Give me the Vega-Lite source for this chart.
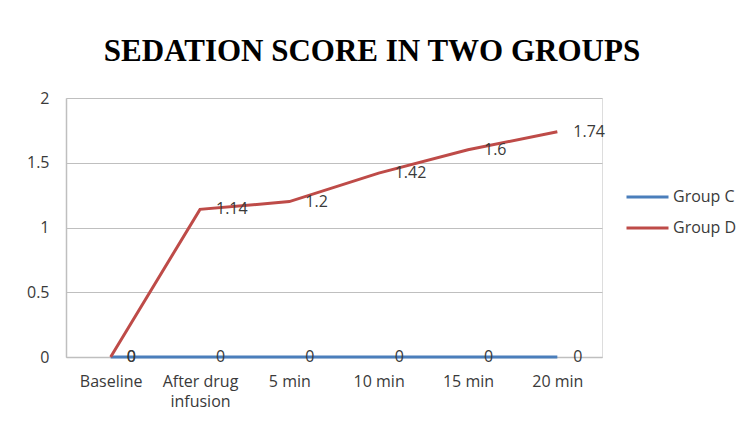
{
  "$schema": "https://vega.github.io/schema/vega-lite/v6.json",
  "width": 536,
  "height": 259,
  "autosize": "none",
  "padding": {"left": 66, "top": 98, "right": 135, "bottom": 66},
  "background": "white",
  "title": {
    "text": "SEDATION SCORE IN TWO GROUPS",
    "font": "Liberation Serif",
    "fontSize": 31,
    "fontWeight": "bold",
    "color": "#000000",
    "anchor": "middle",
    "frame": "group",
    "dx": 38,
    "offset": 22
  },
  "data": {
    "values": [
      {"time": "Baseline", "group": "Group C", "score": 0},
      {"time": "After drug infusion", "group": "Group C", "score": 0},
      {"time": "5 min", "group": "Group C", "score": 0},
      {"time": "10 min", "group": "Group C", "score": 0},
      {"time": "15 min", "group": "Group C", "score": 0},
      {"time": "20 min", "group": "Group C", "score": 0},
      {"time": "Baseline", "group": "Group D", "score": 0},
      {"time": "After drug infusion", "group": "Group D", "score": 1.14},
      {"time": "5 min", "group": "Group D", "score": 1.2},
      {"time": "10 min", "group": "Group D", "score": 1.42},
      {"time": "15 min", "group": "Group D", "score": 1.6},
      {"time": "20 min", "group": "Group D", "score": 1.74}
    ]
  },
  "encoding": {
    "x": {
      "field": "time",
      "type": "nominal",
      "sort": ["Baseline", "After drug infusion", "5 min", "10 min", "15 min", "20 min"],
      "scale": {"type": "point", "padding": 0.5},
      "axis": {
        "title": null,
        "labelAngle": 0,
        "labelFont": "Open Sans",
        "labelFontSize": 16,
        "labelColor": "#3a3a3a",
        "labelPadding": 16,
        "labelLineHeight": 20,
        "labelExpr": "datum.label == 'After drug infusion' ? ['After drug', 'infusion'] : datum.label",
        "ticks": false,
        "domainColor": "#bfbfbf",
        "domainWidth": 1.5,
        "grid": false
      }
    },
    "y": {
      "field": "score",
      "type": "quantitative",
      "scale": {"domain": [0, 2]},
      "axis": {
        "title": null,
        "values": [0, 0.5, 1, 1.5, 2],
        "format": "~g",
        "labelFont": "Open Sans",
        "labelFontSize": 16,
        "labelColor": "#3a3a3a",
        "labelPadding": 17,
        "ticks": false,
        "domainColor": "#bfbfbf",
        "domainWidth": 1.5,
        "grid": true,
        "gridColor": "#bfbfbf",
        "gridWidth": 1.2
      }
    },
    "color": {
      "field": "group",
      "type": "nominal",
      "scale": {"domain": ["Group C", "Group D"], "range": ["#4a7ebb", "#be4b48"]},
      "legend": {
        "title": null,
        "orient": "none",
        "legendX": 569.5,
        "legendY": 87,
        "direction": "vertical",
        "symbolType": "M-2,0H2",
        "symbolSize": 441,
        "symbolStrokeWidth": 3,
        "rowPadding": 11,
        "labelOffset": 13.5,
        "labelFont": "Open Sans",
        "labelFontSize": 16,
        "labelColor": "#3a3a3a"
      }
    }
  },
  "layer": [
    {
      "mark": {"type": "line", "strokeWidth": 3}
    },
    {
      "mark": {"type": "text", "align": "left", "baseline": "middle", "dx": 16, "font": "Open Sans", "fontSize": 16, "color": "#3a3a3a"},
      "encoding": {
        "text": {"field": "score", "type": "quantitative"},
        "color": {"value": "#3a3a3a"}
      }
    }
  ]
}
